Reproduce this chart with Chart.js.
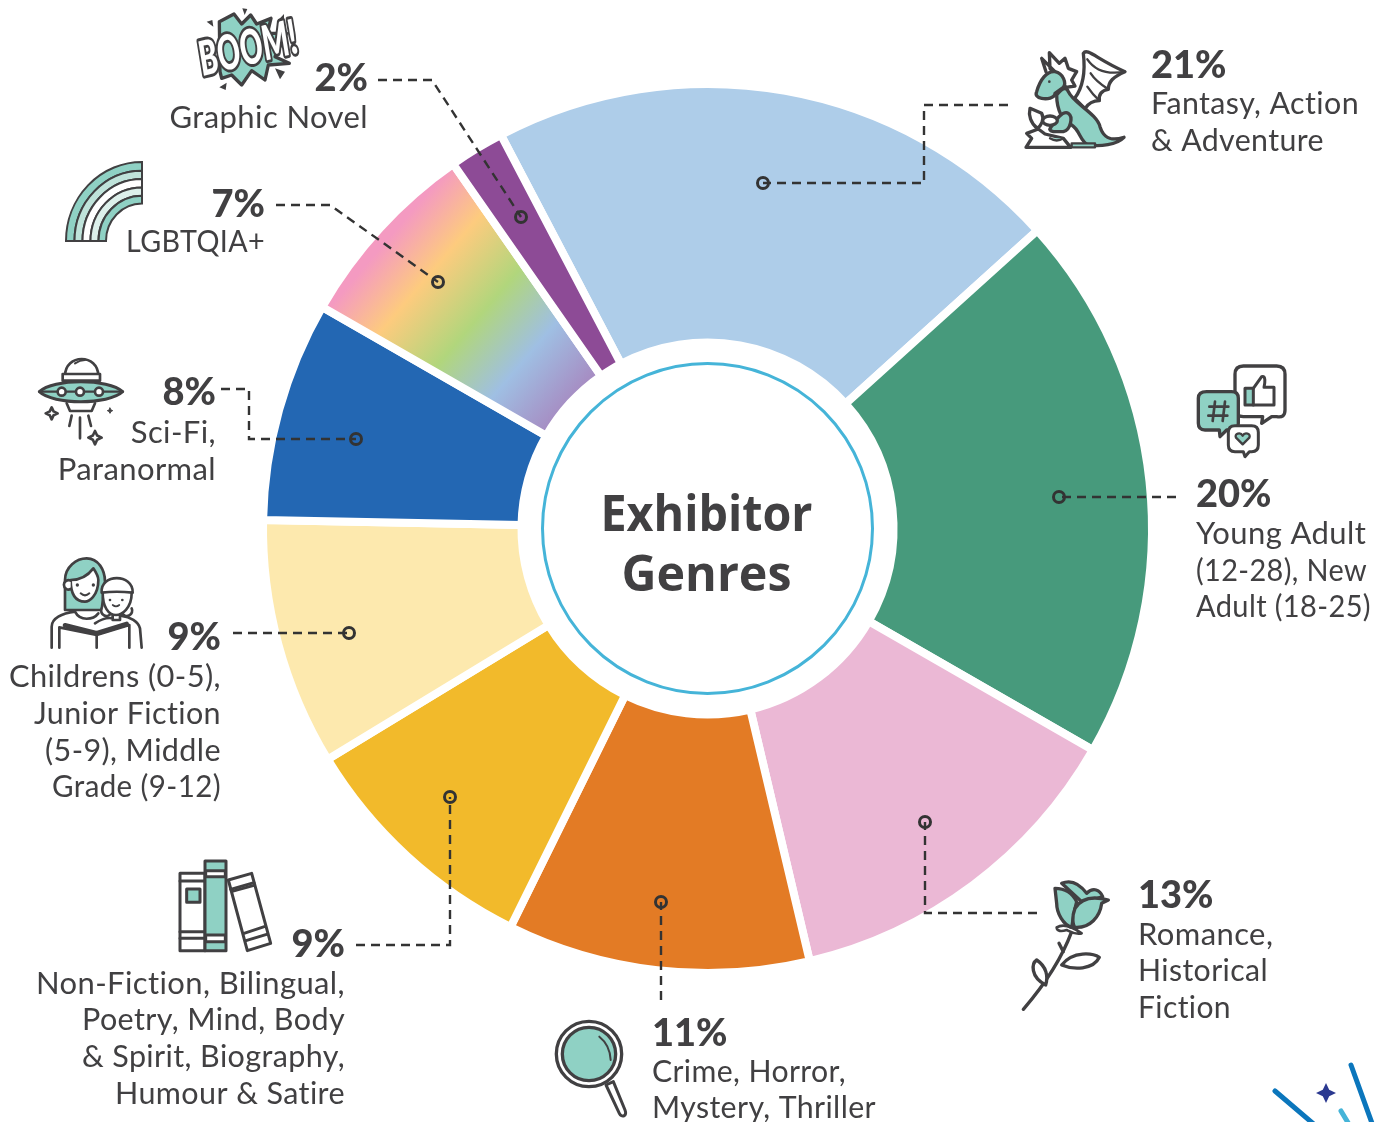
<!DOCTYPE html>
<html>
<head>
<meta charset="utf-8">
<title>Exhibitor Genres</title>
<script src="https://cdn.jsdelivr.net/npm/chart.js@4"></script>
<style>
  html, body { margin: 0; padding: 0; background: #fff; }
  canvas { display: block; }
</style>
</head>
<body>
<canvas id="genres" width="1387" height="1122"></canvas>
<script>
const categories = [
  'Fantasy, Action & Adventure', 'Young Adult (12-28), New Adult (18-25)', 'Romance, Historical Fiction',
  'Crime, Horror, Mystery, Thriller', 'Non-Fiction, Bilingual, Poetry, Mind, Body & Spirit, Biography, Humour & Satire',
  'Childrens (0-5), Junior Fiction (5-9), Middle Grade (9-12)', 'Sci-Fi, Paranormal', 'LGBTQIA+', 'Graphic Novel'
];
const values = [21, 20, 13, 11, 9, 9, 8, 7, 2];
const sliceColors = ['#aecde9', '#479a7c', '#ebb8d5', '#e37b25', '#f2ba2b', '#fde9ae', '#2367b3', null, '#8d4b96'];
const labelLines = [
  ['Fantasy, Action', '& Adventure'],
  ['Young Adult', '(12-28), New', 'Adult (18-25)'],
  ['Romance,', 'Historical', 'Fiction'],
  ['Crime, Horror,', 'Mystery, Thriller'],
  ['Non-Fiction, Bilingual,', 'Poetry, Mind, Body', '& Spirit, Biography,', 'Humour & Satire'],
  ['Childrens (0-5),', 'Junior Fiction', '(5-9), Middle', 'Grade (9-12)'],
  ['Sci-Fi,', 'Paranormal'],
  ['LGBTQIA+'],
  ['Graphic Novel']
];

// where each callout sits on the page, same order as categories
const labelPos = [
  { x: 1151, pct: 78, lines: [114, 151], widths: [208, 173], align: 'left' },
  { x: 1196, pct: 507, lines: [544, 581, 617], widths: [171, 171, 175], align: 'left' },
  { x: 1138, pct: 908, lines: [945, 981, 1018], widths: [141, 130, 93], align: 'left' },
  { x: 652, pct: 1046, lines: [1082, 1118], widths: [194, 224], align: 'left' },
  { x: 345, pct: 957, lines: [994, 1030, 1067, 1104], widths: [309, 263, 263, 230], align: 'right' },
  { x: 221, pct: 650, lines: [687, 724, 761, 797], widths: [212, 187, 176, 169], align: 'right' },
  { x: 216, pct: 405, lines: [443, 480], widths: [87, 161], align: 'right' },
  { x: 265, pct: 217, lines: [252], widths: [139], align: 'right' },
  { x: 368, pct: 91, lines: [128], widths: [200], align: 'right' }
];
const leaders = [
  [[1008, 105], [924, 105], [924, 183], [763, 183]],
  [[1176, 497], [1059, 497]],
  [[1037, 913], [925, 913], [925, 822]],
  [[661, 1000], [661, 902]],
  [[356, 945], [450, 945], [450, 797]],
  [[233, 633], [349, 633]],
  [[221, 389], [249, 389], [249, 439], [356, 439]],
  [[276, 205], [330, 205], [438, 282]],
  [[378, 80], [432, 80], [521, 217]]
];

const INK = '#414042';
const TEAL = '#8fd1c4';
const TEXT_FONT = '"Lato"';

function rainbow(ctx) {
  const g = ctx.createLinearGradient(334, 286, 532, 455);
  g.addColorStop(0.04, '#f49ac1');
  g.addColorStop(0.25, '#fdcb7e');
  g.addColorStop(0.5, '#b1d67c');
  g.addColorStop(0.74, '#9fbfe3');
  g.addColorStop(0.98, '#a68dc3');
  return g;
}

// icon helper: paths are in 3x coordinates, relative to ox, oy
function icon(ctx, ox, oy, parts) {
  ctx.save();
  ctx.translate(ox, oy);
  ctx.scale(1 / 3, 1 / 3);
  ctx.lineJoin = 'round';
  ctx.lineCap = 'round';
  ctx.strokeStyle = INK;
  parts.forEach(function (p) {
    const path = new Path2D(p[0]);
    if (p[1]) { ctx.fillStyle = p[1]; ctx.fill(path); }
    if (p[2] !== 0) { ctx.lineWidth = p[2] || 10; ctx.stroke(path); }
  });
  ctx.restore();
}

function star(x, y, r) {
  const k = r * 0.32;
  return 'M' + x + ' ' + (y - r) + ' L' + (x + k) + ' ' + (y - k) + ' L' + (x + r) + ' ' + y + ' L' + (x + k) + ' ' + (y + k) +
    ' L' + x + ' ' + (y + r) + ' L' + (x - k) + ' ' + (y + k) + ' L' + (x - r) + ' ' + y + ' L' + (x - k) + ' ' + (y - k) + ' Z';
}

function circle(x, y, r) {
  return 'M' + (x - r) + ' ' + y + ' a' + r + ' ' + r + ' 0 1 0 ' + (2 * r) + ' 0 a' + r + ' ' + r + ' 0 1 0 ' + (-2 * r) + ' 0 Z';
}

function drawIcons(ctx) {
  // dragon
  icon(ctx, 1000, 30, [
    ['M250 70 C262 52 290 88 375 125 C340 140 325 155 325 178 C305 180 295 195 298 212 C275 212 262 225 255 236 L224 205 C250 170 256 120 250 70 Z', '#fff'],
    ['M262 88 C285 122 320 135 375 125 M272 130 C285 150 305 165 325 178 M262 170 C272 185 285 200 298 212', null, 7],
    ['M165 125 L125 85 L138 125 M150 115 L148 68 L178 100 L195 85 L205 115 L230 125 L215 150 L225 168 L198 172 Z', '#fff'],
    ['M170 195 C188 172 200 170 205 185 C220 220 290 250 300 290 C310 322 330 335 372 322 C350 345 300 350 265 345 C240 335 240 300 215 285 C190 280 170 240 170 195 Z', TEAL],
    ['M110 185 C120 150 140 122 165 125 C190 130 200 160 190 172 L165 190 C165 205 140 208 125 205 C112 203 105 195 110 185 Z', TEAL],
    [circle(148, 155, 4), INK, 0],
    ['M150 296 C165 270 190 240 205 250 C220 260 212 300 190 305 L160 305 C150 303 148 298 150 296 Z', TEAL],
    ['M90 235 L125 250 C135 270 122 288 112 295 C92 280 85 255 90 235 Z', '#fff'],
    ['M128 272 a22 14 0 1 0 44 0 a22 14 0 1 0 -44 0 Z', '#fff'],
    ['M78 352 L95 325 L80 310 L115 297 L135 312 L190 325 L212 352 Z', '#fff'],
    ['M150 325 Q170 338 190 325 M215 340 L285 340 L285 352 L215 352 Z', TEAL, 7]
  ]);
  // boom
  icon(ctx, 160, 0, [
    ['M178 65 L222 42 L245 72 L272 45 L290 72 L333 55 L322 100 L380 100 L345 170 L388 190 L325 195 L315 240 L275 212 L245 255 L215 225 L185 235 L180 215 Z', TEAL],
    ['M247 25 L262 27 L254 45 Z M140 65 L157 60 L160 80 Z M350 65 L372 42 L372 65 Z M345 205 L375 215 L360 238 Z M178 262 L200 248 L197 270 Z', INK, 0]
  ]);
  ctx.save();
  ctx.translate(203, 76);
  ctx.rotate(-0.24);
  ctx.scale(1, 1.45);
  ctx.font = 'italic 900 33px ' + TEXT_FONT;
  ctx.textAlign = 'left';
  ctx.lineJoin = 'round';
  ctx.strokeStyle = INK;
  ctx.lineWidth = 4;
  ctx.strokeText('BOOM!', 0, 0, 100);
  ctx.fillStyle = '#fff';
  ctx.fillText('BOOM!', 0, 0, 100);
  ctx.restore();
  // rainbow
  const rx = 142, ry = 241;
  const radii = [76, 67.5, 59.5, 51.5, 43.5, 36];
  const bands = [TEAL, '#bfe3da', '#fff', '#ddf0eb', TEAL];
  ctx.save();
  ctx.strokeStyle = INK;
  ctx.lineWidth = 2;
  bands.forEach(function (c, i) {
    ctx.beginPath();
    ctx.ellipse(rx, ry, radii[i], radii[i] * 1.04, 0, Math.PI, Math.PI * 1.5);
    ctx.lineTo(rx, ry - radii[i + 1] * 1.04);
    ctx.ellipse(rx, ry, radii[i + 1], radii[i + 1] * 1.04, 0, Math.PI * 1.5, Math.PI, true);
    ctx.closePath();
    ctx.fillStyle = c;
    ctx.fill();
    ctx.stroke();
  });
  ctx.restore();
  // ufo
  icon(ctx, 30, 350, [
    ['M105 78 C105 10 205 10 205 78 Z', '#fff', 8],
    ['M135 40 Q150 30 165 30', null, 6],
    ['M98 72 H210 V92 H98 Z', '#fff', 8],
    ['M110 160 L120 183 H185 L195 160', '#fff', 8],
    ['M28 125 C70 85 235 85 278 125 C235 165 70 165 28 125 Z', TEAL, 9],
    ['M28 125 H278', null, 7],
    [circle(95, 125, 12), '#fff', 8], [circle(150, 125, 12), '#fff', 8], [circle(207, 125, 12), '#fff', 8],
    ['M125 197 L118 228 M150 203 L150 265 M175 197 L183 228', null, 8],
    [star(65, 190, 18), '#fff', 8], [star(195, 263, 20), '#fff', 8], [star(240, 182, 8), INK, 3]
  ]);
  // mother and child
  icon(ctx, 30, 550, [
    ['M105 180 L105 90 C105 50 140 25 170 25 C205 25 225 60 225 95 L215 180 Z', TEAL, 8],
    ['M122 90 C150 90 175 75 190 55 C200 70 205 85 205 90 C205 140 175 155 165 155 C135 155 122 130 122 90 Z', '#fff', 8],
    ['M122 92 a14 14 0 1 0 0 25', '#fff', 8],
    [circle(142, 105, 5), INK, 0], [circle(190, 105, 5), INK, 0],
    ['M152 130 Q165 142 178 130', null, 6],
    ['M65 293 L65 230 C65 205 95 190 135 185 C150 215 190 210 205 190', null, 8],
    ['M335 293 L330 235 C325 215 300 200 275 198', null, 8],
    ['M88 293 V232 L200 255 L298 225 V293', '#fff', 8],
    ['M105 226 L200 250 L290 222', null, 14],
    ['M200 255 V293', null, 8],
    ['M215 175 a16 16 0 1 0 20 -8 M285 167 a16 16 0 1 0 20 8', '#fff', 8],
    ['M218 128 C218 85 305 75 305 130 C305 175 275 195 258 195 C235 195 218 170 218 128 Z', '#fff', 8],
    ['M215 128 C210 70 310 70 308 128 C280 125 240 125 215 128 Z', '#fff', 8],
    [circle(240, 150, 4), INK, 0], [circle(277, 150, 4), INK, 0],
    ['M248 165 Q258 173 268 165', null, 5],
    ['M248 195 V210 H270 V195 M195 220 Q225 200 248 205', null, 8]
  ]);
  // books
  icon(ctx, 170, 850, [
    ['M30 70 H105 V302 H30 Z', '#fff', 9],
    ['M30 93 H105 M30 245 H105 M30 265 H105', null, 9],
    ['M50 117 H90 V157 H50 Z', TEAL, 9],
    ['M105 33 H168 V302 H105 Z', TEAL, 9],
    ['M107 62 H166 V80 H107 Z M107 255 H166 V275 H107 Z', '#fff', 9],
    ['M175 90 L245 70 L302 280 L232 302 Z', '#fff', 9],
    ['M182 118 L252 98 M222 250 L283 230 M228 272 L290 253', null, 9],
    ['M186 124 L252 106', null, 9]
  ]);
  // magnifier
  icon(ctx, 540, 1010, [
    ['M198 225 L238 310 C245 325 262 318 255 300 L220 215 Z', '#fff', 9],
    [circle(147, 132, 98), '#fff', 10],
    [circle(147, 132, 80), TEAL, 10],
    ['M178 80 Q210 105 212 150', null, 6]
  ]);
  // rose
  icon(ctx, 1010, 870, [
    ['M40 418 C90 360 150 280 185 185 M160 245 L147 220', null, 10],
    ['M155 285 C190 240 250 250 268 262 C250 300 190 300 155 285 Z', '#fff'],
    ['M107 345 C60 320 65 280 80 270 C110 290 115 320 107 345 Z', '#fff'],
    ['M140 172 C160 160 190 172 215 190 C195 195 180 185 170 180 C155 185 140 185 140 172 Z', '#fff', 8],
    ['M155 40 C190 25 215 50 230 70 C250 50 270 60 278 80 L220 100 Z', TEAL],
    ['M135 55 C170 55 190 75 200 95 C190 130 190 150 185 172 C160 165 140 130 140 100 Z', TEAL],
    ['M295 90 C240 75 210 90 195 115 C185 140 188 165 195 172 C240 175 270 140 275 100 Z', TEAL]
  ]);
  // social bubbles
  icon(ctx, 1190, 355, [
    ['M160 33 H260 Q285 33 285 58 V165 Q285 190 260 185 L245 185 L215 205 L218 185 H160 Q135 185 135 160 V58 Q135 33 160 33 Z', '#fff'],
    ['M165 100 H190 V150 H165 Z', TEAL, 9],
    ['M190 100 L215 65 C228 60 225 85 222 97 H252 V150 H190', null, 9],
    ['M50 110 H125 Q145 110 145 130 V205 Q145 225 125 225 H110 L90 245 L88 225 H45 Q25 225 25 205 V130 Q25 110 50 110 Z', TEAL],
    ['M75 140 L68 198 M105 140 L98 198 M58 155 H115 M55 182 H112', null, 8],
    ['M135 212 H185 Q205 212 205 232 V270 Q205 290 185 290 H178 L165 305 L160 290 H135 Q115 290 115 270 V232 Q115 212 135 212 Z', '#fff', 9],
    ['M158 268 L138 248 C132 235 152 230 158 242 C164 230 184 235 178 248 Z', TEAL, 7]
  ]);
  // corner decoration
  ctx.save();
  ctx.lineCap = 'round';
  ctx.lineWidth = 5;
  ctx.strokeStyle = '#0b76bc';
  ctx.beginPath(); ctx.moveTo(1275, 1091); ctx.lineTo(1316, 1126); ctx.stroke();
  ctx.beginPath(); ctx.moveTo(1351, 1065); ctx.lineTo(1373, 1126); ctx.stroke();
  ctx.strokeStyle = '#45b4d8';
  ctx.beginPath(); ctx.moveTo(1341, 1111); ctx.lineTo(1350, 1126); ctx.stroke();
  ctx.restore();
  ctx.fillStyle = '#2b3990';
  ctx.fill(new Path2D(star(1326, 1093, 10)));
}

const calloutPlugin = {
  id: 'callouts',
  afterDatasetsDraw(chart) {
    const ctx = chart.ctx;
    const arc = chart.getDatasetMeta(0).data[0];

    // centre ring and title
    ctx.save();
    ctx.beginPath();
    ctx.arc(arc.x, arc.y, 165, 0, Math.PI * 2);
    ctx.strokeStyle = '#45b4d8';
    ctx.lineWidth = 3;
    ctx.stroke();
    ctx.fillStyle = INK;
    ctx.textAlign = 'center';
    ctx.font = '700 50px "Open Sans"';
    ctx.fillText('Exhibitor', arc.x - 1, 531, 212);
    ctx.fillText('Genres', arc.x - 1, 591, 170);
    ctx.restore();

    // leaders
    ctx.save();
    ctx.strokeStyle = '#333';
    leaders.forEach(function (pts) {
      ctx.lineWidth = 2.4;
      ctx.setLineDash([9, 6]);
      ctx.beginPath();
      pts.forEach(function (p, i) { if (i) ctx.lineTo(p[0], p[1]); else ctx.moveTo(p[0], p[1]); });
      ctx.stroke();
      ctx.setLineDash([]);
      const end = pts[pts.length - 1];
      ctx.lineWidth = 3;
      ctx.beginPath();
      ctx.arc(end[0], end[1], 5.5, 0, Math.PI * 2);
      ctx.stroke();
    });
    ctx.restore();

    // labels
    ctx.save();
    ctx.fillStyle = INK;
    categories.forEach(function (c, i) {
      const pos = labelPos[i];
      ctx.textAlign = pos.align;
      ctx.font = '900 38px ' + TEXT_FONT;
      ctx.letterSpacing = '0px';
      ctx.fillText(values[i] + '%', pos.x, pos.pct);
      ctx.font = '400 31px ' + TEXT_FONT;
      ctx.letterSpacing = '0.4px';
      labelLines[i].forEach(function (line, j) {
        ctx.fillText(line, pos.x, pos.lines[j], pos.widths[j]);
      });
    });
    ctx.restore();

    drawIcons(ctx);
  }
};

new Chart(document.getElementById('genres'), {
  type: 'doughnut',
  data: {
    labels: categories,
    datasets: [{
      data: values,
      backgroundColor: function (c) {
        return c.dataIndex === 7 ? rainbow(c.chart.ctx) : sliceColors[c.dataIndex];
      },
      borderColor: '#fff',
      borderWidth: 8
    }]
  },
  options: {
    responsive: false,
    animation: false,
    rotation: -27.7,
    cutout: '41.85%',
    // white borders eat into the rim, so the area is a bit bigger than the visible ring
    layout: { padding: { left: 259, right: 231, top: 80, bottom: 145 } },
    plugins: { legend: { display: false }, tooltip: { enabled: false } }
  },
  plugins: [calloutPlugin]
});
</script>
</body>
</html>
